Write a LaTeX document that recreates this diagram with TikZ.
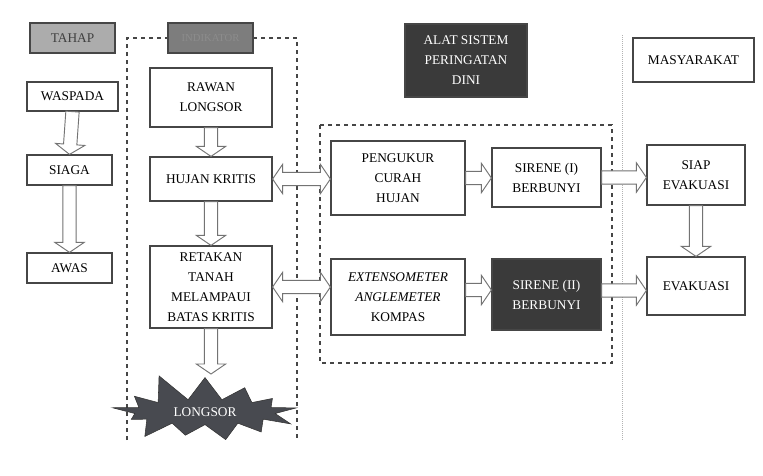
\documentclass[tikz,border=0pt]{standalone}
\usepackage{fontspec}
\setmainfont{Liberation Serif}
\usetikzlibrary{calc, shapes.symbols}
\definecolor{tahapgrey}{RGB}{172, 172, 172}
\definecolor{headgrey}{RGB}{125, 125, 125}
\definecolor{alatdark}{RGB}{58, 58, 58}
\definecolor{burstdark}{RGB}{72, 74, 80}
\definecolor{framegrey}{RGB}{70, 70, 70}

\tikzset{
  box/.style={draw=framegrey, fill=white, line width=0.9pt, align=center, inner sep=2pt},
  darkbox/.style={box, fill=alatdark, text=white},
  % hollow block arrow, one head
  hollow/.style={draw=black!55, fill=white, line width=0.7pt,
    to path={let \p1=(\tikztostart), \p2=(\tikztotarget),
      \n1={veclen(\x2-\x1,\y2-\y1)}, \n2={(\x2-\x1)/\n1}, \n3={(\y2-\y1)/\n1} in
      ({\x1-5pt*\n3},{\y1+5pt*\n2})
      -- ({\x2-7.5pt*\n2-5pt*\n3},{\y2-7.5pt*\n3+5pt*\n2})
      -- ({\x2-7.5pt*\n2-11pt*\n3},{\y2-7.5pt*\n3+11pt*\n2})
      -- (\x2,\y2)
      -- ({\x2-7.5pt*\n2+11pt*\n3},{\y2-7.5pt*\n3-11pt*\n2})
      -- ({\x2-7.5pt*\n2+5pt*\n3},{\y2-7.5pt*\n3-5pt*\n2})
      -- ({\x1+5pt*\n3},{\y1-5pt*\n2}) -- cycle}},
  % hollow block arrow, two heads
  hollowtwo/.style={draw=black!55, fill=white, line width=0.7pt,
    to path={let \p1=(\tikztostart), \p2=(\tikztotarget),
      \n1={veclen(\x2-\x1,\y2-\y1)}, \n2={(\x2-\x1)/\n1}, \n3={(\y2-\y1)/\n1} in
      (\x1,\y1)
      -- ({\x1+7.5pt*\n2-11pt*\n3},{\y1+7.5pt*\n3+11pt*\n2})
      -- ({\x1+7.5pt*\n2-5pt*\n3},{\y1+7.5pt*\n3+5pt*\n2})
      -- ({\x2-7.5pt*\n2-5pt*\n3},{\y2-7.5pt*\n3+5pt*\n2})
      -- ({\x2-7.5pt*\n2-11pt*\n3},{\y2-7.5pt*\n3+11pt*\n2})
      -- (\x2,\y2)
      -- ({\x2-7.5pt*\n2+11pt*\n3},{\y2-7.5pt*\n3-11pt*\n2})
      -- ({\x2-7.5pt*\n2+5pt*\n3},{\y2-7.5pt*\n3-5pt*\n2})
      -- ({\x1+7.5pt*\n2+5pt*\n3},{\y1+7.5pt*\n3-5pt*\n2})
      -- ({\x1+7.5pt*\n2+11pt*\n3},{\y1+7.5pt*\n3-11pt*\n2}) -- cycle}},
}

\begin{document}
\begin{tikzpicture}[x=0.75pt, y=-0.75pt, font=\fontsize{10}{15}\selectfont]
  \useasboundingbox (0,0) rectangle (763,475);

  % Frames
  \draw[dashed, framegrey, line width=0.8pt] (127,440) |- (297,38) -- (297,440);
  \draw[dashed, framegrey, line width=0.8pt] (320,125) rectangle (612,363);
  \draw[densely dotted, black!30, line width=0.5pt] (622,35) -- (622,440);

  % Headers
  \node[box, fill=tahapgrey, text=black!75, minimum width=63.75pt, minimum height=22.5pt] (tahap) at (72.5,38) {TAHAP};
  \node[box, fill=headgrey, text=black!45, font=\footnotesize, minimum width=63.75pt, minimum height=22.5pt] (indikator) at (210.5,38) {INDIKATOR};
  \node[darkbox, minimum width=91.5pt, minimum height=54.75pt] (alat) at (466,60.5) {ALAT SISTEM\\PERINGATAN\\DINI};
  \node[box, minimum width=90.75pt, minimum height=33pt] (masyarakat) at (693.5,60) {MASYARAKAT};

  % Tahap
  \node[box, minimum width=68.25pt, minimum height=21.75pt] (waspada) at (72.5,96.5) {WASPADA};
  \node[box, minimum width=63.75pt, minimum height=22.5pt] (siaga) at (69.5,170) {SIAGA};
  \node[box, minimum width=63.75pt, minimum height=22.5pt] (awas) at (69.5,268) {AWAS};

  % Kondisi lereng
  \node[box, minimum width=91.5pt, minimum height=44.25pt] (rawan) at (211,97.5) {RAWAN\\LONGSOR};
  \node[box, minimum width=91.5pt, minimum height=33pt] (hujan) at (211,179) {HUJAN KRITIS};
  \node[box, minimum width=91.5pt, minimum height=61.5pt] (retakan) at (211,287) {RETAKAN\\TANAH\\MELAMPAUI\\BATAS KRITIS};
  \coordinate (lgtop) at (211,374);

  % Alat
  \node[box, minimum width=100.5pt, minimum height=55.5pt] (pengukur) at (398,178) {PENGUKUR\\CURAH\\HUJAN};
  \node[box, minimum width=81.75pt, minimum height=44.25pt] (sirenesatu) at (546.5,177.5) {SIRENE (I)\\BERBUNYI};
  \node[box, minimum width=100.5pt, minimum height=57pt] (ekstenso) at (398,297) {\textit{EXTENSOMETER}\\\textit{ANGLEMETER}\\KOMPAS};
  \node[darkbox, minimum width=81.75pt, minimum height=53.25pt] (sirenedua) at (546.5,294.5) {SIRENE (II)\\BERBUNYI};

  % Masyarakat
  \node[box, minimum width=73.5pt, minimum height=45pt] (siap) at (696,175) {SIAP\\EVAKUASI};
  \node[box, minimum width=73.5pt, minimum height=43.5pt] (evakuasi) at (696,286) {EVAKUASI};

  % Arrow ends
  \coordinate (ekout) at ($(ekstenso.east)+(0,-7)$);
  \coordinate (srout) at ($(sirenedua.east)+(0,-4)$);

  % Arrows
  \draw[hollow] (waspada.south) to (siaga.north);
  \draw[hollow] (siaga.south) to (awas.north);
  \draw[hollow] (rawan.south) to (hujan.north);
  \draw[hollow] (hujan.south) to (retakan.north);
  \draw[hollow] (retakan.south) to (lgtop);
  \draw[hollow] (siap.south) to (evakuasi.north);
  \draw[hollowtwo] (hujan.east) to (hujan.east -| pengukur.west);
  \draw[hollowtwo] (retakan.east) to (retakan.east -| ekstenso.west);
  \draw[hollow] (pengukur.east) to (pengukur.east -| sirenesatu.west);
  \draw[hollow] (sirenesatu.east) to (sirenesatu.east -| siap.west);
  \draw[hollow] (ekout) to (ekout -| sirenedua.west);
  \draw[hollow] (srout) to (srout -| evakuasi.west);

  % Longsor
  \node[starburst, draw=black!80, fill=burstdark, text=white, minimum width=150pt, minimum height=50pt,
        starburst points=13, starburst point height=22pt, random starburst=11] (longsor) at (205,412) {LONGSOR};
\end{tikzpicture}
\end{document}
